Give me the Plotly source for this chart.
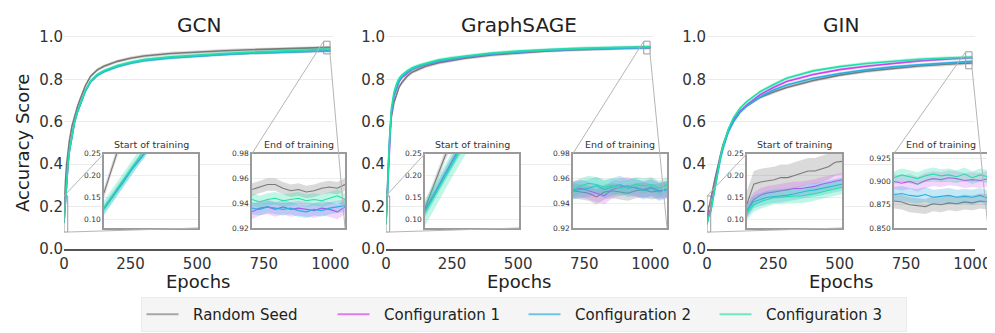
import plotly.graph_objects as go

# browser window size; the page body adds an 8px margin on top/left
WIN_W, WIN_H = 995, 333
OFF = 8
FIG_W, FIG_H = WIN_W - OFF, WIN_H - OFF
FONT = "DejaVu Sans"

# ---------------- data ----------------
SERIES = ["Random Seed", "Configuration 1", "Configuration 2", "Configuration 3"]
MODELS = ["GCN", "GraphSAGE", "GIN"]

epochs = [0, 3, 6, 10, 15, 20, 30, 40, 50, 60, 80, 100, 125, 150, 200, 250, 300,
          400, 500, 600, 700, 800, 900, 1000]

gcn_seed = [0.16, 0.27, 0.33, 0.40, 0.46, 0.51, 0.58, 0.63, 0.67, 0.705, 0.77, 0.815,
            0.845, 0.862, 0.885, 0.90, 0.91, 0.922, 0.93, 0.935, 0.94, 0.944, 0.948, 0.951]
gcn_conf1 = [0.125, 0.185, 0.245, 0.32, 0.40, 0.46, 0.54, 0.60, 0.645, 0.68, 0.745, 0.79,
             0.82, 0.838, 0.862, 0.878, 0.89, 0.903, 0.912, 0.918, 0.924, 0.928, 0.932, 0.935]
gcn_conf2 = [0.123, 0.183, 0.243, 0.318, 0.398, 0.458, 0.538, 0.598, 0.643, 0.678, 0.743, 0.788,
             0.818, 0.836, 0.860, 0.876, 0.888, 0.901, 0.910, 0.917, 0.923, 0.928, 0.932, 0.935]
gcn_conf3 = [0.127, 0.188, 0.248, 0.323, 0.403, 0.463, 0.543, 0.603, 0.648, 0.683, 0.748, 0.793,
             0.823, 0.841, 0.865, 0.881, 0.893, 0.906, 0.915, 0.922, 0.928, 0.933, 0.938, 0.943]

sage_seed = [0.125, 0.25, 0.33, 0.43, 0.55, 0.62, 0.69, 0.73, 0.765, 0.785, 0.815, 0.835,
             0.85, 0.862, 0.878, 0.89, 0.90, 0.915, 0.925, 0.933, 0.939, 0.944, 0.947, 0.949]
sage_conf1 = [0.12, 0.195, 0.28, 0.41, 0.56, 0.64, 0.72, 0.76, 0.79, 0.808, 0.83, 0.848,
              0.86, 0.87, 0.885, 0.897, 0.906, 0.92, 0.929, 0.936, 0.941, 0.945, 0.948, 0.951]
sage_conf2 = [0.12, 0.193, 0.278, 0.41, 0.56, 0.642, 0.722, 0.763, 0.793, 0.81, 0.833, 0.85,
              0.862, 0.872, 0.887, 0.898, 0.907, 0.921, 0.93, 0.937, 0.942, 0.946, 0.949, 0.951]
sage_conf3 = [0.115, 0.185, 0.27, 0.42, 0.575, 0.66, 0.74, 0.78, 0.805, 0.82, 0.84, 0.855,
              0.867, 0.876, 0.892, 0.902, 0.91, 0.924, 0.933, 0.94, 0.945, 0.949, 0.951, 0.954]

gin_seed = [0.135, 0.188, 0.195, 0.21, 0.235, 0.27, 0.33, 0.39, 0.44, 0.49, 0.56, 0.61,
            0.65, 0.675, 0.715, 0.74, 0.762, 0.795, 0.82, 0.838, 0.852, 0.863, 0.871, 0.877]
gin_conf1 = [0.12, 0.16, 0.168, 0.175, 0.195, 0.23, 0.30, 0.37, 0.43, 0.48, 0.555, 0.605,
             0.65, 0.68, 0.728, 0.762, 0.79, 0.823, 0.846, 0.862, 0.876, 0.887, 0.895, 0.902]
gin_conf2 = [0.12, 0.15, 0.155, 0.167, 0.185, 0.22, 0.29, 0.36, 0.42, 0.47, 0.55, 0.60,
             0.645, 0.675, 0.718, 0.75, 0.773, 0.805, 0.828, 0.845, 0.859, 0.869, 0.878, 0.885]
gin_conf3 = [0.115, 0.145, 0.152, 0.158, 0.18, 0.215, 0.29, 0.365, 0.43, 0.485, 0.565, 0.62,
             0.665, 0.695, 0.742, 0.775, 0.805, 0.84, 0.86, 0.875, 0.886, 0.895, 0.901, 0.905]

main_spread = [0.008, 0.007, 0.007, 0.008]

# start of training (epochs 0..14)
start_epochs = list(range(15))
gcn_start_seed = [0.16, 0.21, 0.255, 0.29, 0.32, 0.35, 0.37, 0.39, 0.41, 0.43, 0.44, 0.46, 0.47, 0.48, 0.49]
gcn_start_conf1 = [0.125, 0.146, 0.167, 0.19, 0.212, 0.234, 0.255, 0.275, 0.295, 0.315, 0.335, 0.355, 0.37, 0.385, 0.40]
gcn_start_conf2 = [0.123, 0.144, 0.165, 0.187, 0.21, 0.232, 0.253, 0.273, 0.293, 0.313, 0.333, 0.353, 0.368, 0.383, 0.398]
gcn_start_conf3 = [0.127, 0.149, 0.17, 0.193, 0.215, 0.237, 0.258, 0.278, 0.298, 0.318, 0.338, 0.358, 0.373, 0.388, 0.403]
gcn_start_spread = [0.012, 0.005, 0.012, 0.016]

sage_start_seed = [0.125, 0.165, 0.205, 0.245, 0.28, 0.31, 0.34, 0.37, 0.40, 0.43, 0.46, 0.49, 0.51, 0.53, 0.55]
sage_start_conf1 = [0.12, 0.148, 0.176, 0.205, 0.232, 0.26, 0.285, 0.31, 0.335, 0.36, 0.385, 0.41, 0.43, 0.45, 0.47]
sage_start_conf2 = [0.12, 0.147, 0.175, 0.203, 0.23, 0.258, 0.283, 0.308, 0.333, 0.358, 0.383, 0.408, 0.428, 0.448, 0.468]
sage_start_conf3 = [0.115, 0.142, 0.17, 0.197, 0.225, 0.252, 0.278, 0.303, 0.328, 0.353, 0.378, 0.403, 0.423, 0.443, 0.463]
sage_start_spread = [0.012, 0.01, 0.016, 0.03]

gin_start_seed = [0.135, 0.18, 0.185, 0.188, 0.19, 0.195, 0.195, 0.20, 0.205, 0.21, 0.21, 0.215, 0.22, 0.23, 0.232]
gin_start_conf1 = [0.12, 0.145, 0.155, 0.16, 0.162, 0.165, 0.168, 0.17, 0.17, 0.172, 0.175, 0.18, 0.183, 0.186, 0.19]
gin_start_conf2 = [0.12, 0.14, 0.145, 0.15, 0.152, 0.153, 0.155, 0.158, 0.162, 0.165, 0.167, 0.17, 0.173, 0.176, 0.18]
gin_start_conf3 = [0.115, 0.133, 0.14, 0.145, 0.15, 0.15, 0.152, 0.153, 0.153, 0.155, 0.158, 0.162, 0.166, 0.17, 0.173]
gin_start_spread = [0.03, 0.016, 0.015, 0.016]

# end of training (epochs 975..999)
end_epochs = [975, 977, 979, 981, 983, 985, 987, 989, 991, 993, 995, 997, 999]
gcn_end_seed = [0.951, 0.953, 0.955, 0.955, 0.952, 0.950, 0.951, 0.949, 0.950, 0.952, 0.953, 0.952, 0.955]
gcn_end_conf1 = [0.933, 0.936, 0.937, 0.935, 0.937, 0.935, 0.936, 0.935, 0.934, 0.936, 0.935, 0.933, 0.937]
gcn_end_conf2 = [0.936, 0.935, 0.937, 0.936, 0.935, 0.936, 0.934, 0.933, 0.935, 0.934, 0.936, 0.937, 0.938]
gcn_end_conf3 = [0.943, 0.941, 0.943, 0.944, 0.942, 0.943, 0.944, 0.942, 0.943, 0.942, 0.944, 0.946, 0.943]
gcn_end_spread = [0.005, 0.006, 0.005, 0.005]

sage_end_seed = [0.950, 0.949, 0.948, 0.945, 0.949, 0.950, 0.949, 0.948, 0.950, 0.951, 0.949, 0.950, 0.951]
sage_end_conf1 = [0.951, 0.952, 0.950, 0.948, 0.946, 0.951, 0.953, 0.954, 0.952, 0.951, 0.953, 0.950, 0.951]
sage_end_conf2 = [0.950, 0.951, 0.952, 0.954, 0.951, 0.953, 0.955, 0.952, 0.953, 0.950, 0.952, 0.949, 0.951]
sage_end_conf3 = [0.951, 0.954, 0.956, 0.955, 0.953, 0.954, 0.952, 0.953, 0.955, 0.954, 0.955, 0.952, 0.955]
sage_end_spread = [0.006, 0.007, 0.007, 0.006]

gin_end_seed = [0.879, 0.878, 0.875, 0.874, 0.873, 0.876, 0.875, 0.877, 0.876, 0.878, 0.877, 0.879, 0.878]
gin_end_conf1 = [0.900, 0.898, 0.900, 0.897, 0.901, 0.903, 0.902, 0.904, 0.903, 0.901, 0.902, 0.901, 0.903]
gin_end_conf2 = [0.886, 0.887, 0.885, 0.884, 0.886, 0.883, 0.884, 0.885, 0.883, 0.884, 0.883, 0.885, 0.882]
gin_end_conf3 = [0.904, 0.907, 0.905, 0.903, 0.906, 0.908, 0.906, 0.907, 0.905, 0.908, 0.904, 0.907, 0.905]
gin_end_spread = [0.008, 0.008, 0.008, 0.007]

start_yrange = [0.08, 0.25]
start_ticks = [0.10, 0.15, 0.20, 0.25]
end_yranges = [[0.92, 0.98], [0.92, 0.98], [0.85, 0.93]]
end_ticks = [[0.92, 0.94, 0.96, 0.98], [0.92, 0.94, 0.96, 0.98], [0.85, 0.875, 0.90, 0.925]]
end_fmt = [".2f", ".2f", ".3f"]

# ---------------- style ----------------
LINE_COLORS = ["#7a7a7a", "#d040f0", "#2aaee0", "#1fe0a6"]
BAND_COLORS = ["rgba(122,122,122,0.28)", "rgba(208,64,240,0.22)",
               "rgba(42,174,224,0.28)", "rgba(31,224,166,0.28)"]
LEGEND_COLORS = ["#a6a6a6", "#e07af2", "#6cc6e8", "#6ee8c0"]

# positions in window pixels
main_px = [(64, 333), (386, 653), (707, 975)]
start_px = [(104, 198), (425, 519), (747, 842)]
end_px = [(252, 345), (573, 667), (894, 988)]
main_ypx = (30.6, 249)
inset_ypx = (153.5, 228)
MAIN_XRANGE = [0, 1010]
MAIN_YRANGE = [0, 1.03]


def px_x(x):
    return (x - OFF) / FIG_W


def px_y(y):
    return (WIN_H - y) / FIG_H


def xd(a, b):
    return [px_x(a), px_x(b)]


def yd(top, bottom):
    return [px_y(bottom), px_y(top)]


main_data = [
    [gcn_seed, gcn_conf1, gcn_conf2, gcn_conf3],
    [sage_seed, sage_conf1, sage_conf2, sage_conf3],
    [gin_seed, gin_conf1, gin_conf2, gin_conf3],
]
start_data = [
    ([gcn_start_seed, gcn_start_conf1, gcn_start_conf2, gcn_start_conf3], gcn_start_spread),
    ([sage_start_seed, sage_start_conf1, sage_start_conf2, sage_start_conf3], sage_start_spread),
    ([gin_start_seed, gin_start_conf1, gin_start_conf2, gin_start_conf3], gin_start_spread),
]
end_data = [
    ([gcn_end_seed, gcn_end_conf1, gcn_end_conf2, gcn_end_conf3], gcn_end_spread),
    ([sage_end_seed, sage_end_conf1, sage_end_conf2, sage_end_conf3], sage_end_spread),
    ([gin_end_seed, gin_end_conf1, gin_end_conf2, gin_end_conf3], gin_end_spread),
]

fig = go.Figure()


def add_series(xs, ys, spread, i, xa, ya, width=1.2):
    upper = [v + spread for v in ys]
    lower = [v - spread for v in ys]
    fig.add_trace(go.Scatter(
        x=list(xs) + list(xs)[::-1], y=upper + lower[::-1], fill="toself",
        fillcolor=BAND_COLORS[i], line=dict(width=0), mode="lines",
        hoverinfo="skip", showlegend=False, xaxis=xa, yaxis=ya))
    fig.add_trace(go.Scatter(
        x=xs, y=ys, mode="lines", line=dict(color=LINE_COLORS[i], width=width),
        showlegend=False, xaxis=xa, yaxis=ya, name=SERIES[i]))


layout = dict(
    width=FIG_W, height=FIG_H, margin=dict(l=0, r=0, t=0, b=0),
    paper_bgcolor="white", plot_bgcolor="white",
    font=dict(family=FONT, color="#333333"),
    showlegend=True,
)

annotations = []
shapes = []

for m in range(3):
    ax_i = m + 1
    xa = "x" if ax_i == 1 else f"x{ax_i}"
    ya = "y" if ax_i == 1 else f"y{ax_i}"
    xkey = "xaxis" if ax_i == 1 else f"xaxis{ax_i}"
    ykey = "yaxis" if ax_i == 1 else f"yaxis{ax_i}"
    layout[xkey] = dict(
        domain=xd(*main_px[m]), range=MAIN_XRANGE, anchor=ya,
        tickvals=[0, 250, 500, 750, 1000], showgrid=False, zeroline=False,
        showline=True, linecolor="#555555", linewidth=1.5, ticks="",
        tickfont=dict(size=15, color="#333333"), automargin=False)
    layout[ykey] = dict(
        domain=yd(*main_ypx), range=MAIN_YRANGE, anchor=xa,
        tickvals=[0, 0.2, 0.4, 0.6, 0.8, 1.0], tickformat=".1f",
        showgrid=True, gridcolor="#ebebeb", gridwidth=1, zeroline=False,
        showline=False, ticks="", tickfont=dict(size=15, color="#333333"),
        automargin=False)
    for i in range(4):
        add_series(epochs, main_data[m][i], main_spread[i], i, xa, ya, width=1.6)

    cx = px_x((main_px[m][0] + main_px[m][1]) / 2)
    annotations.append(dict(text=MODELS[m], x=cx, y=px_y(25), xref="paper", yref="paper",
                            showarrow=False, font=dict(size=20, color="#222222"),
                            xanchor="center", yanchor="middle"))
    annotations.append(dict(text="Epochs", x=cx, y=px_y(281), xref="paper", yref="paper",
                            showarrow=False, font=dict(size=18, color="#222222"),
                            xanchor="center", yanchor="middle"))

annotations.append(dict(text="Accuracy Score", x=px_x(22), y=px_y(143), xref="paper",
                        yref="paper", showarrow=False, textangle=-90,
                        font=dict(size=18, color="#222222"),
                        xanchor="center", yanchor="middle"))


def to_paper(val, rng, dom):
    return dom[0] + (val - rng[0]) / (rng[1] - rng[0]) * (dom[1] - dom[0])


inset_id = 4
for m in range(3):
    main_xa = "x" if m == 0 else f"x{m + 1}"
    main_ya = "y" if m == 0 else f"y{m + 1}"
    mdx = xd(*main_px[m])
    mdy = yd(*main_ypx)
    for kind in ("start", "end"):
        xa, ya = f"x{inset_id}", f"y{inset_id}"
        if kind == "start":
            px = start_px[m]
            xr = [start_epochs[0], start_epochs[-1]]
            yr = start_yrange
            ticks, fmt = start_ticks, ".2f"
            series, spread = start_data[m]
            xs = start_epochs
            title = "Start of training"
        else:
            px = end_px[m]
            xr = [end_epochs[0], end_epochs[-1]]
            yr = end_yranges[m]
            ticks, fmt = end_ticks[m], end_fmt[m]
            series, spread = end_data[m]
            xs = end_epochs
            title = "End of training"
        dx, dy = xd(*px), yd(*inset_ypx)
        layout[f"xaxis{inset_id}"] = dict(
            domain=dx, range=xr, anchor=ya, showticklabels=False, showgrid=False,
            zeroline=False, showline=True, mirror=True, linecolor="#9a9a9a",
            linewidth=1.5, ticks="", automargin=False)
        layout[f"yaxis{inset_id}"] = dict(
            domain=dy, range=yr, anchor=xa, tickvals=ticks, tickformat=fmt,
            showgrid=True, gridcolor="#eeeeee", zeroline=False, showline=True,
            mirror=True, linecolor="#9a9a9a", linewidth=1.5, ticks="",
            tickfont=dict(size=7.5, color="#333333"), automargin=False)
        for i in range(4):
            add_series(xs, series[i], spread[i], i, xa, ya, width=1.1)
        annotations.append(dict(text=title, x=(dx[0] + dx[1]) / 2, y=dy[1] + 1.5 / FIG_H,
                                xref="paper", yref="paper", showarrow=False,
                                font=dict(size=9.5, color="#333333"),
                                xanchor="center", yanchor="bottom"))
        shapes.append(dict(type="rect", xref=main_xa, yref=main_ya,
                           x0=xr[0], x1=xr[1], y0=yr[0], y1=yr[1],
                           line=dict(color="#9a9a9a", width=1), layer="above"))
        ul_main = (to_paper(xr[0], MAIN_XRANGE, mdx), to_paper(yr[1], MAIN_YRANGE, mdy))
        lr_main = (to_paper(xr[1], MAIN_XRANGE, mdx), to_paper(yr[0], MAIN_YRANGE, mdy))
        shapes.append(dict(type="line", xref="paper", yref="paper",
                           x0=ul_main[0], y0=ul_main[1], x1=dx[0], y1=dy[1],
                           line=dict(color="#b5b5b5", width=1), layer="above"))
        shapes.append(dict(type="line", xref="paper", yref="paper",
                           x0=lr_main[0], y0=lr_main[1], x1=dx[1], y1=dy[0],
                           line=dict(color="#b5b5b5", width=1), layer="above"))
        inset_id += 1

NBSP = "\u00a0"
for i in range(4):
    fig.add_trace(go.Scatter(x=[None], y=[None], mode="lines", name=NBSP * 2 + SERIES[i],
                             line=dict(color=LEGEND_COLORS[i], width=2),
                             showlegend=True, xaxis="x", yaxis="y"))

layout["legend"] = dict(
    orientation="h", x=px_x(523.5), xanchor="center", y=px_y(297), yanchor="top",
    bgcolor="#f5f5f5", bordercolor="#ececec", borderwidth=1,
    font=dict(size=15, color="#222222", family=FONT), entrywidth=144,
    itemwidth=32)
layout["annotations"] = annotations
layout["shapes"] = shapes
fig.update_layout(**layout)

fig.write_html("out.html")
